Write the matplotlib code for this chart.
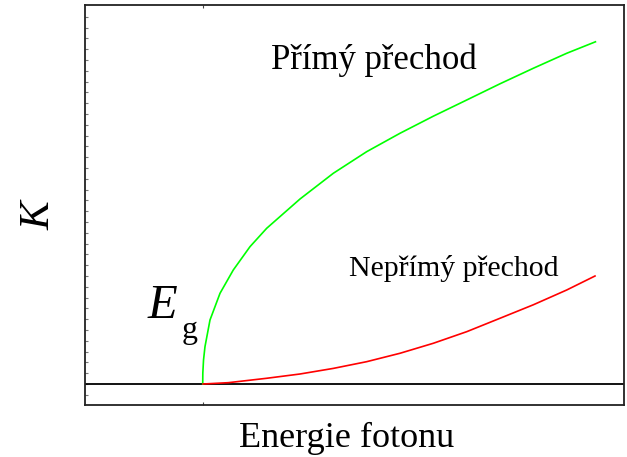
import numpy as np
import matplotlib
matplotlib.use("Agg")
import matplotlib.pyplot as plt

# Values (axes run 0..1 in both directions)
baseline = 0.0525
direct_x = [0.2184, 0.2186, 0.2199, 0.2226, 0.2319, 0.2505, 0.2751, 0.3061, 0.3371,
            0.3989, 0.4607, 0.5226, 0.5844, 0.6462, 0.7082, 0.7699, 0.8317, 0.8937, 0.947]
direct_y = [0.0525, 0.080, 0.1125, 0.1458, 0.2125, 0.2793, 0.3375, 0.3958, 0.4418,
            0.515, 0.5793, 0.6333, 0.6793, 0.722, 0.7625, 0.803, 0.8418, 0.8793, 0.908]
indirect_x = [0.219, 0.2659, 0.3371, 0.3989, 0.4607, 0.5226, 0.5844, 0.6462, 0.7082,
              0.7699, 0.8317, 0.8937, 0.9462]
indirect_y = [0.0525, 0.0558, 0.0668, 0.0775, 0.0915, 0.1083, 0.1293, 0.1543, 0.1833,
              0.2168, 0.2505, 0.2875, 0.3225]

label_direct = "Přímý přechod"
label_indirect = "Nepřímý přechod"
xlabel = "Energie fotonu"
ylabel = "K"

plt.rcParams['font.family'] = ['Liberation Serif', 'DejaVu Serif']

fig = plt.figure(figsize=(6.27, 4.57), dpi=100)
ax = fig.add_axes([85 / 627, 1 - 405 / 457, 539 / 627, 400 / 457])
ax.set_xlim(0, 1)
ax.set_ylim(0, 1)

ax.axhline(baseline, color='black', lw=1.3)
ax.plot(direct_x, direct_y, color='#00ff00', lw=1.2, solid_joinstyle='round')
ax.plot(indirect_x, indirect_y, color='#ff0000', lw=1.2, solid_joinstyle='round')

for s in ax.spines.values():
    s.set_linewidth(1.3)
    s.set_color('#222222')

# ticks: one at Eg on bottom/top, small ones on the left
eg = direct_x[0]
ax.set_xticks([eg])
ax.set_xticklabels([])
step = 0.027
yt = np.concatenate([baseline - step * np.arange(1, 3), baseline + step * np.arange(0, 36)])
yt = yt[(yt > 0.005) & (yt < 0.995)]
ax.set_yticks(yt)
ax.set_yticklabels([])
ax.tick_params(axis='x', direction='in', length=2, width=0.8, colors='#444444', top=True)
ax.tick_params(axis='y', direction='in', length=2, width=0.8, colors='#777777')

ax.text((373.5 - 85) / 539, (405 - 69) / 400, label_direct, fontsize=25,
        ha='center', va='baseline')
ax.text((454 - 85) / 539, (405 - 275.5) / 400, label_indirect, fontsize=21.5,
        ha='center', va='baseline')
ax.text((148 - 85) / 539, (405 - 318) / 400, "E", fontsize=35, style='italic',
        ha='left', va='baseline')
ax.text((182 - 85) / 539, (405 - 338) / 400, "g", fontsize=23, ha='left', va='baseline')

fig.text(347 / 627, 1 - 447 / 457, xlabel, fontsize=26, ha='center', va='baseline')
fig.text(39 / 627, 1 - 216 / 457, ylabel, fontsize=31, style='italic', rotation=90,
         ha='center', va='center')

fig.savefig("out.png", dpi=100)
